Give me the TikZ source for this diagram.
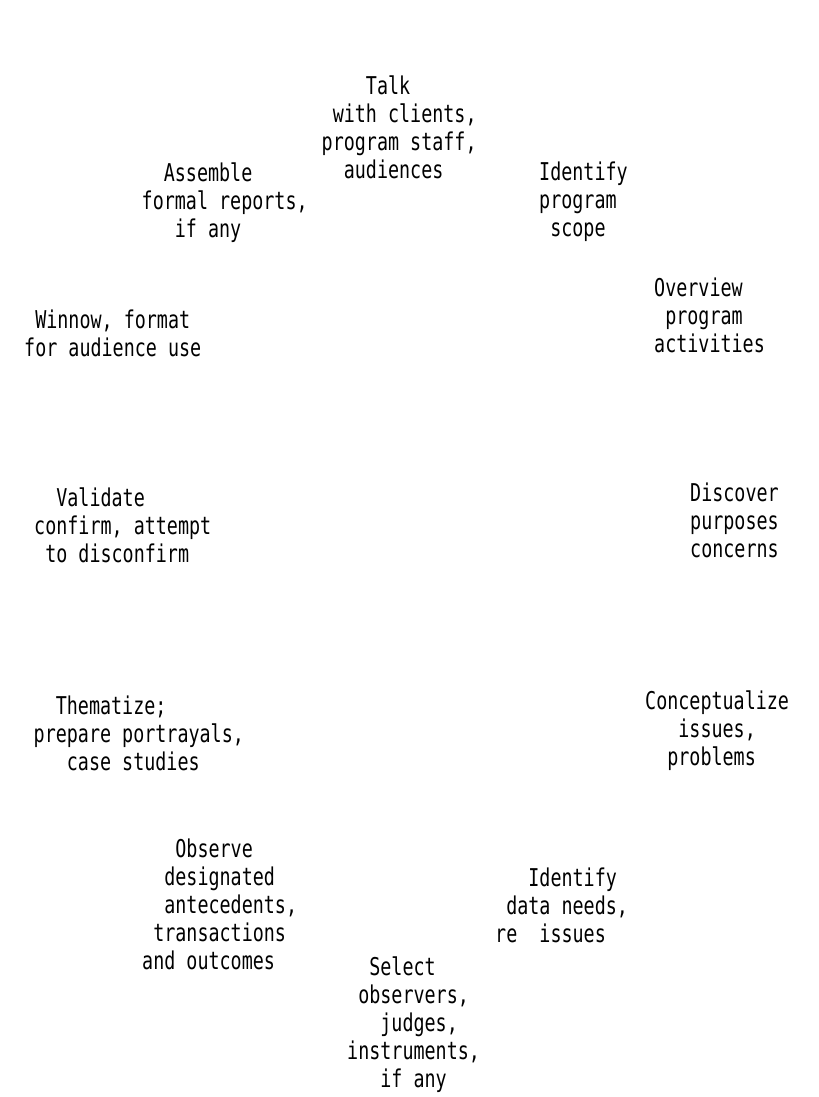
\documentclass[tikz,border=0pt]{standalone}
\usepackage{fontspec}
\newfontfamily\typewfont[FakeStretch=0.75]{DejaVu Sans Mono}
\newcommand{\colskip}[1]{\hspace*{#1\fontcharwd\font`x}}

% each node sits on the baseline of its last line
\tikzset{
  stagetext/.style={anchor=base west, inner sep=0pt, align=left,
    font=\typewfont\fontsize{24.5bp}{28bp}\selectfont}
}

\begin{document}
\begin{tikzpicture}[x=1bp,y=-1bp]
      \useasboundingbox (0,0) rectangle (819,1097);

      \node [stagetext] (talk) at (321.5,178)
        {\colskip{4}Talk\\\colskip{1}with clients,\\program staff,\\\colskip{2}audiences};
      \node [stagetext] (scope) at (539,236)
        {Identify\\program\\\colskip{1}scope};
      \node [stagetext] (overview) at (654,352)
        {Overview\\\colskip{1}program\\activities};
      \node [stagetext] (discover) at (690,557)
        {Discover\\purposes\\concerns};
      \node [stagetext] (issues) at (645,765)
        {Conceptualize\\\colskip{3}issues,\\\colskip{2}problems};
      \node [stagetext] (dataneeds) at (495,942)
        {\colskip{3}Identify\\\colskip{1}data needs,\\re\colskip{2}issues};
      \node [stagetext] (select) at (347,1087)
        {\colskip{2}Select\\\colskip{1}observers,\\\colskip{3}judges,\\instruments,\\\colskip{3}if any};
      \node [stagetext] (observe) at (142,969)
        {\colskip{3}Observe\\\colskip{2}designated\\\colskip{2}antecedents,\\\colskip{1}transactions\\and outcomes};
      \node [stagetext] (thematize) at (33.5,770)
        {\colskip{2}Thematize;\\prepare portrayals,\\\colskip{3}case studies};
      \node [stagetext] (validate) at (34,562)
        {\colskip{2}Validate\\confirm, attempt\\\colskip{1}to disconfirm};
      \node [stagetext] (winnow) at (24,356)
        {\colskip{1}Winnow, format\\for audience use};
      \node [stagetext] (assemble) at (141.5,237)
        {\colskip{2}Assemble\\formal reports,\\\colskip{3}if any};
\end{tikzpicture}
\end{document}
